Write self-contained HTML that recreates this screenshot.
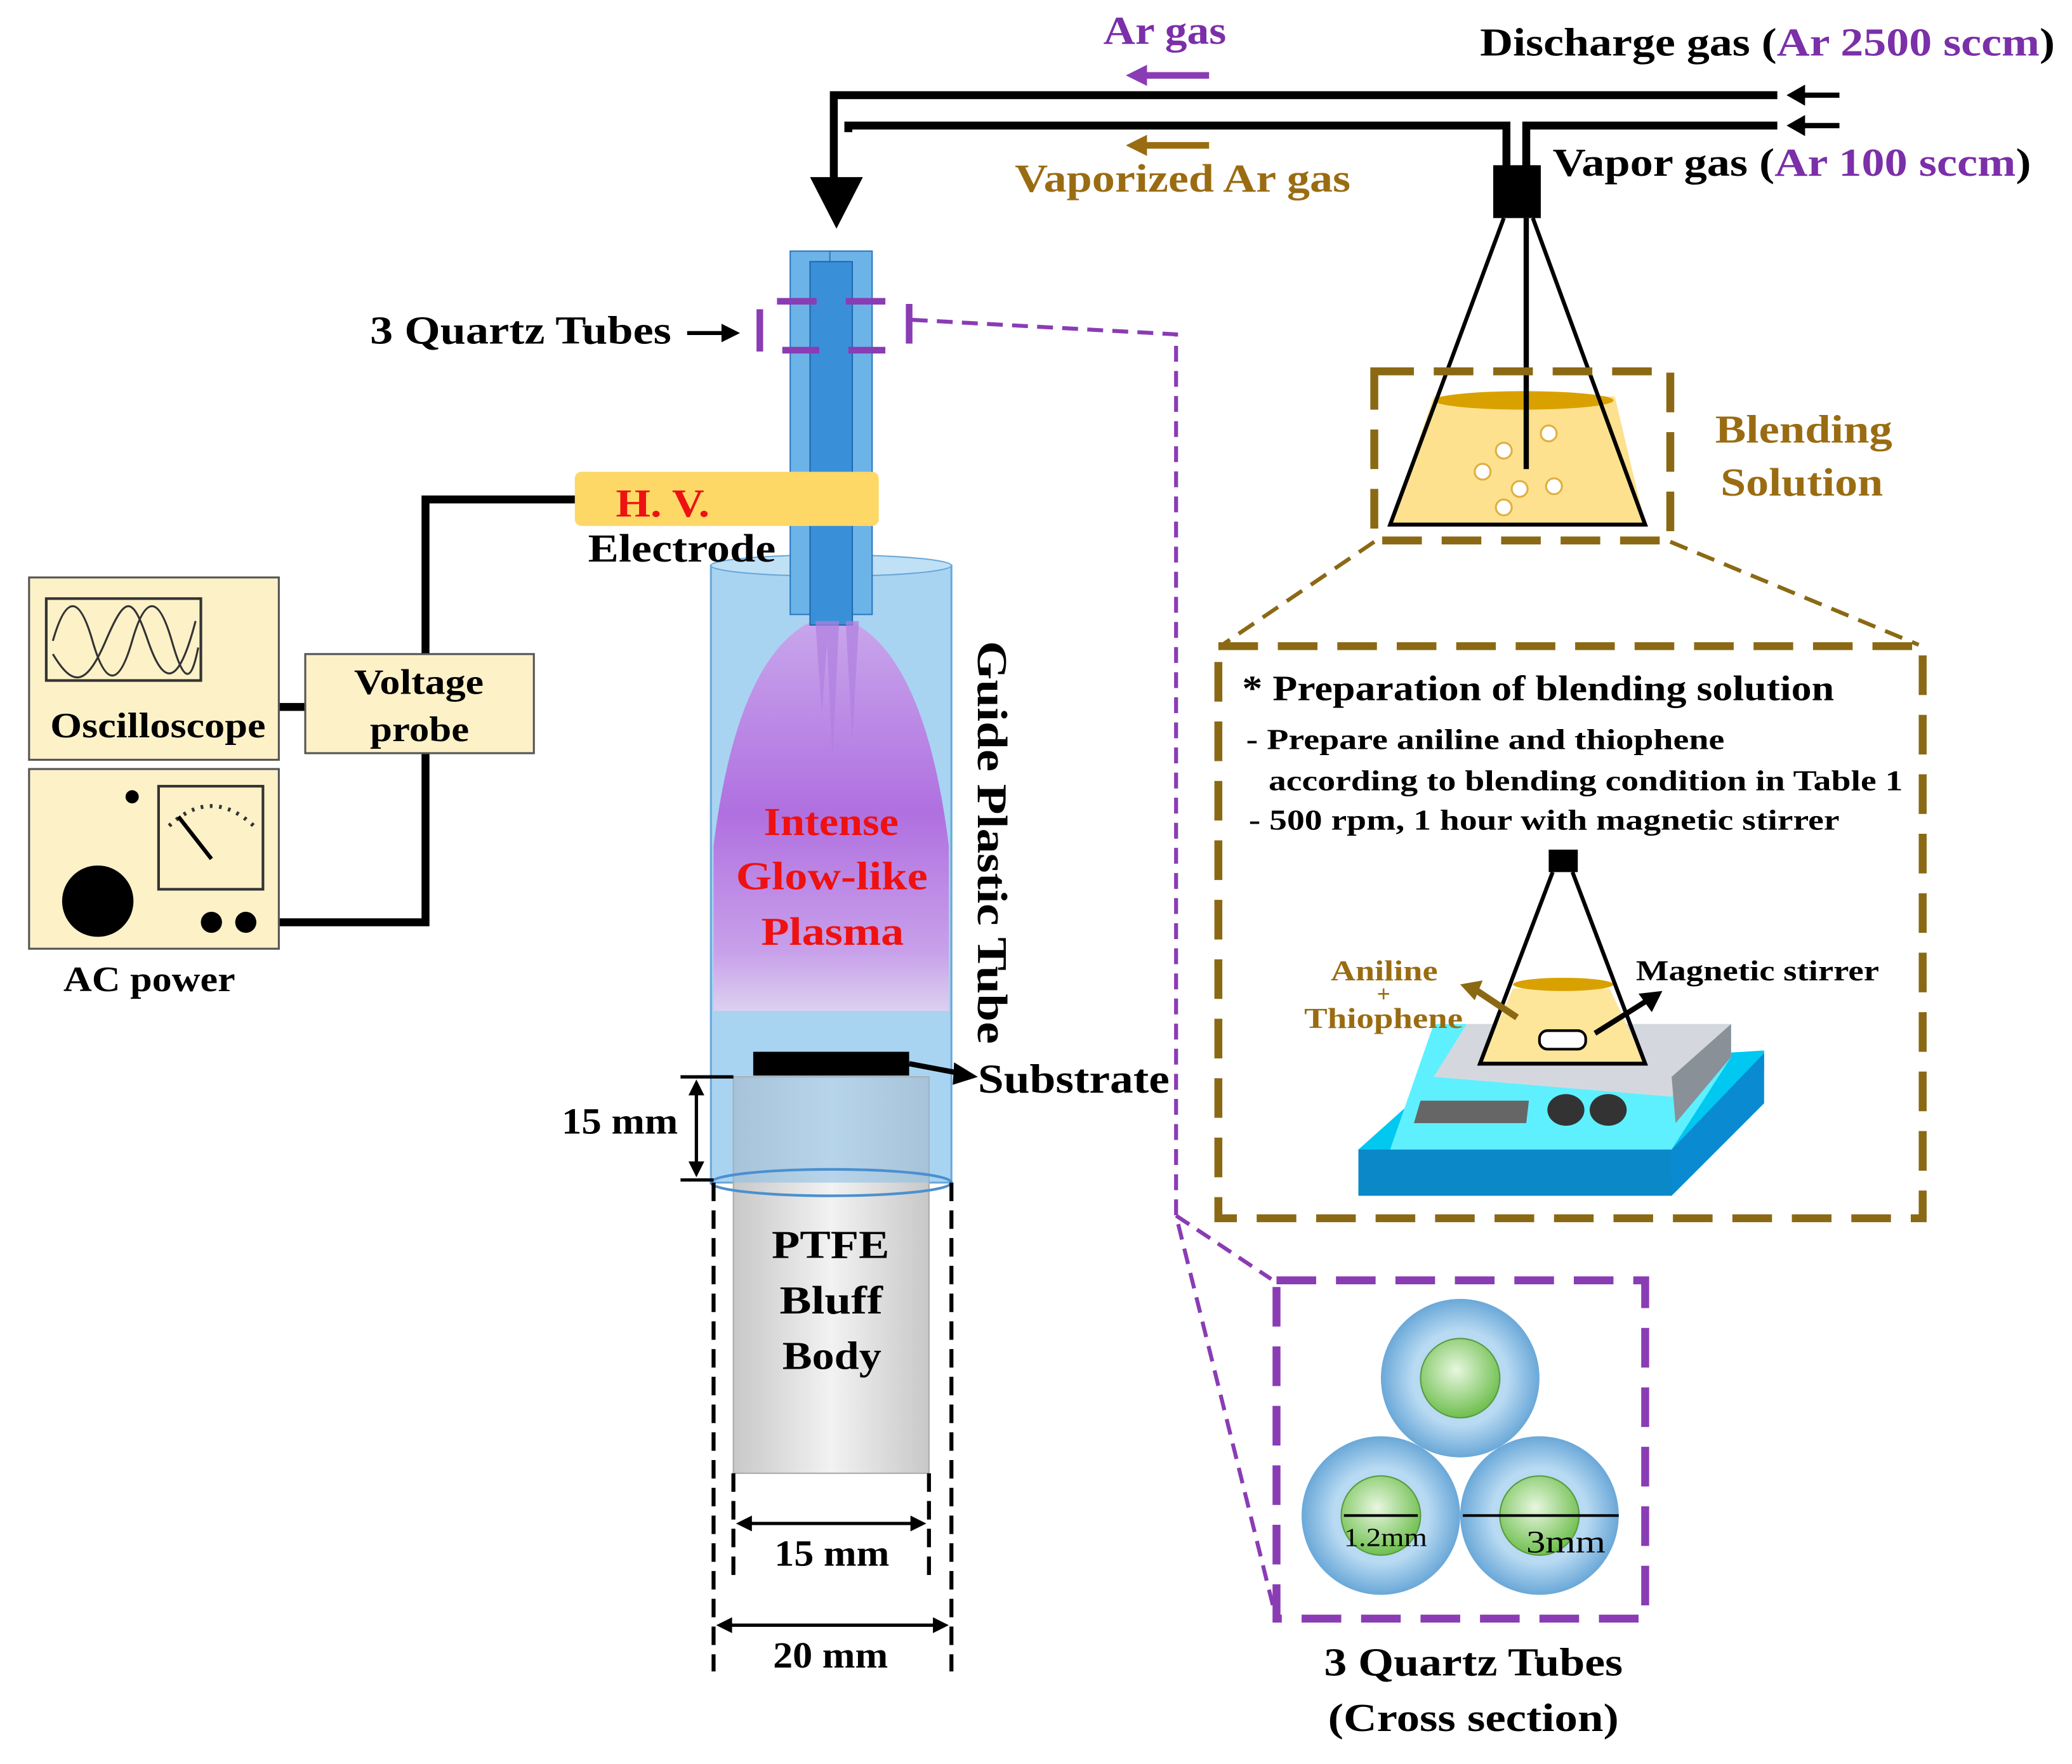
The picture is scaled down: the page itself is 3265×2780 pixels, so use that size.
<!DOCTYPE html>
<html><head><meta charset="utf-8"><style>
html,body{margin:0;padding:0;background:#fff;}
svg{display:block;}
text{font-family:"Liberation Serif",serif;font-weight:bold;}
</style></head><body>
<svg width="3265" height="2780" viewBox="0 0 1568 1335" xmlns="http://www.w3.org/2000/svg">
<defs>
<linearGradient id="pl" x1="0" y1="0" x2="0" y2="1">
<stop offset="0" stop-color="#c9a8ec"/><stop offset="0.5" stop-color="#b070e0"/><stop offset="0.85" stop-color="#c8a0ea"/><stop offset="1" stop-color="#dcd0f0"/></linearGradient>
<linearGradient id="bb" x1="0" y1="0" x2="1" y2="0">
<stop offset="0" stop-color="#c8c8c8"/><stop offset="0.5" stop-color="#f2f2f2"/><stop offset="1" stop-color="#c8c8c8"/></linearGradient>
<radialGradient id="gr" cx="0.45" cy="0.4" r="0.6"><stop offset="0" stop-color="#e8f7e0"/><stop offset="1" stop-color="#6fbf4f"/></radialGradient>
<radialGradient id="bl" cx="0.5" cy="0.5" r="0.5"><stop offset="0.6" stop-color="#b8daf2"/><stop offset="1" stop-color="#6aa8d8"/></radialGradient>
</defs>

<!-- top pipes -->
<g stroke="#000" stroke-width="6" fill="none">
<polyline points="1345,72 631,72 631,140"/>
<polyline points="1140,130 1140,95 642,95 642,100"/>
<polyline points="1155,130 1155,95 1345,95"/>
</g>
<polygon points="613,134 653,134 633,173" fill="#000"/>
<g stroke="#000" stroke-width="4"><line x1="1360" y1="72" x2="1392" y2="72"/><line x1="1360" y1="95" x2="1392" y2="95"/></g>
<polygon points="1352,72 1366,64 1366,80" fill="#000"/><polygon points="1352,95 1366,87 1366,103" fill="#000"/>
<text x="835" y="33" font-size="30" fill="#7b2fa8" textLength="93" lengthAdjust="spacingAndGlyphs">Ar gas</text>
<line x1="865" y1="57" x2="915" y2="57" stroke="#8a3cb4" stroke-width="5"/><polygon points="852,57 868,49 868,65" fill="#8a3cb4"/>
<line x1="865" y1="110" x2="915" y2="110" stroke="#9a6c12" stroke-width="5"/><polygon points="852,110 868,102 868,118" fill="#9a6c12"/>
<text x="768" y="145" font-size="30" fill="#9a6c12" textLength="254" lengthAdjust="spacingAndGlyphs">Vaporized Ar gas</text>
<text x="1120" y="42" font-size="30" fill="#000" textLength="435" lengthAdjust="spacingAndGlyphs">Discharge gas (<tspan fill="#7b2fa8">Ar 2500 sccm</tspan>)</text>
<text x="1175" y="133" font-size="30" fill="#000" textLength="362" lengthAdjust="spacingAndGlyphs">Vapor gas (<tspan fill="#7b2fa8">Ar 100 sccm</tspan>)</text>

<!-- flask top -->
<polygon points="1085,300 1222,300 1245,397 1052,397" fill="#fde18f"/>
<ellipse cx="1153" cy="303" rx="68" ry="7" fill="#d9a100"/>
<polyline points="1138,165 1052,397 1245,397 1160,165" fill="none" stroke="#000" stroke-width="3"/>
<rect x="1130" y="125" width="36" height="40" fill="#000"/>
<line x1="1155" y1="165" x2="1155" y2="355" stroke="#000" stroke-width="4"/>
<g fill="#fff" stroke="#e0b040" stroke-width="1.5">
<circle cx="1138" cy="341" r="6"/><circle cx="1172" cy="328" r="6"/><circle cx="1122" cy="357" r="6"/><circle cx="1150" cy="370" r="6"/><circle cx="1176" cy="368" r="6"/><circle cx="1138" cy="384" r="6"/></g>
<rect x="1040" y="281" width="224" height="128" fill="none" stroke="#8b6914" stroke-width="6" stroke-dasharray="30,15"/>
<text x="1298" y="335" font-size="30" fill="#9a6c12" textLength="134" lengthAdjust="spacingAndGlyphs">Blending</text>
<text x="1302" y="375" font-size="30" fill="#9a6c12" textLength="123" lengthAdjust="spacingAndGlyphs">Solution</text>
<g stroke="#8b6914" stroke-width="3" stroke-dasharray="14,8"><line x1="1040" y1="410" x2="925" y2="488"/><line x1="1264" y1="410" x2="1452" y2="488"/></g>

<!-- big box -->
<rect x="922" y="489" width="533" height="433" fill="none" stroke="#8b6914" stroke-width="6" stroke-dasharray="30,15"/>
<text x="940" y="530" font-size="27" fill="#000" textLength="448" lengthAdjust="spacingAndGlyphs">* Preparation of blending solution</text>
<text x="943" y="567" font-size="22" fill="#000" textLength="362" lengthAdjust="spacingAndGlyphs">- Prepare aniline and thiophene</text>
<text x="960" y="598" font-size="22" fill="#000" textLength="480" lengthAdjust="spacingAndGlyphs">according to blending condition in Table 1</text>
<text x="945" y="628" font-size="22" fill="#000" textLength="447" lengthAdjust="spacingAndGlyphs">- 500 rpm, 1 hour with magnetic stirrer</text>

<!-- hotplate -->
<polygon points="1028,870 1095,810 1335,795 1335,810 1265,905 1028,905" fill="#00c8f0"/>
<polygon points="1028,870 1265,870 1265,905 1028,905" fill="#0a88c8"/>
<polygon points="1265,870 1335,797 1335,835 1265,905" fill="#0a8ad0"/>
<polygon points="1085,775 1310,775 1310,800 1265,870 1052,870" fill="#5ef0ff"/>
<polygon points="1110,775 1310,775 1265,830 1085,815" fill="#d4d8de"/>
<polygon points="1265,815 1310,775 1310,800 1268,850" fill="#8a9098"/>
<polygon points="1075,833 1157,833 1155,850 1070,850" fill="#666"/>
<ellipse cx="1185" cy="840" rx="14" ry="12" fill="#333"/><ellipse cx="1217" cy="840" rx="14" ry="12" fill="#333"/>
<polygon points="1145,748 1218,748 1245,805 1120,805" fill="#fde59a"/>
<ellipse cx="1183" cy="745" rx="38" ry="5" fill="#d9a100"/>
<polyline points="1175,660 1120,805 1245,805 1190,660" fill="none" stroke="#000" stroke-width="3"/>
<rect x="1172" y="643" width="22" height="17" fill="#000"/>
<rect x="1165" y="780" width="35" height="14" rx="6" fill="#fff" stroke="#000" stroke-width="2"/>
<line x1="1207" y1="782" x2="1250" y2="755" stroke="#000" stroke-width="4"/><polygon points="1258,750 1240,752 1250,766" fill="#000"/>
<line x1="1148" y1="770" x2="1118" y2="750" stroke="#8b6914" stroke-width="5"/><polygon points="1105,745 1122,742 1116,757" fill="#8b6914"/>
<text x="1007" y="742" font-size="22" fill="#9a6c12" textLength="81" lengthAdjust="spacingAndGlyphs">Aniline</text>
<text x="1047" y="758" font-size="18" fill="#9a6c12" text-anchor="middle">+</text>
<text x="987" y="778" font-size="22" fill="#9a6c12" textLength="120" lengthAdjust="spacingAndGlyphs">Thiophene</text>
<text x="1238" y="742" font-size="22" fill="#000" textLength="184" lengthAdjust="spacingAndGlyphs">Magnetic stirrer</text>

<!-- purple dashed connectors -->
<g stroke="#8a3cb4" stroke-width="3" stroke-dasharray="12,7" fill="none">
<polyline points="690,242 890,253 890,920 965,1222"/>
<line x1="890" y1="920" x2="962" y2="968"/>
</g>
<rect x="966" y="969" width="279" height="256" fill="none" stroke="#8a3cb4" stroke-width="6" stroke-dasharray="30,15"/>
<circle cx="1105" cy="1043" r="60" fill="url(#bl)"/><circle cx="1105" cy="1043" r="30" fill="url(#gr)" stroke="#5a9a40"/>
<circle cx="1045" cy="1147" r="60" fill="url(#bl)"/><circle cx="1045" cy="1147" r="30" fill="url(#gr)" stroke="#5a9a40"/>
<circle cx="1165" cy="1147" r="60" fill="url(#bl)"/><circle cx="1165" cy="1147" r="30" fill="url(#gr)" stroke="#5a9a40"/>
<g stroke="#000" stroke-width="2"><line x1="1017" y1="1147" x2="1073" y2="1147"/><line x1="1107" y1="1147" x2="1225" y2="1147"/></g>
<text x="1017" y="1170" font-size="20" style="font-weight:normal" fill="#000" textLength="63" lengthAdjust="spacingAndGlyphs">1.2mm</text>
<text x="1155" y="1175" font-size="24" style="font-weight:normal" fill="#000" textLength="60" lengthAdjust="spacingAndGlyphs">3mm</text>
<text x="1002" y="1268" font-size="30" fill="#000" textLength="226" lengthAdjust="spacingAndGlyphs">3 Quartz Tubes</text>
<text x="1005" y="1310" font-size="30" fill="#000" textLength="220" lengthAdjust="spacingAndGlyphs">(Cross section)</text>

<!-- guide tube -->
<rect x="538" y="428" width="182" height="467" fill="#a8d4f2" stroke="#6aa8d8" stroke-width="1.5"/>
<ellipse cx="629" cy="428" rx="91" ry="8" fill="#c0e0f6" stroke="#6aa8d8"/>
<path d="M540,765 L540,640 Q560,480 629,465 Q698,480 718,640 L718,765 Z" fill="url(#pl)"/>
<rect x="555" y="815" width="148" height="300" fill="url(#bb)" stroke="#aaa"/>
<rect x="555" y="815" width="148" height="80" fill="#8fc0e4" opacity="0.6"/>
<ellipse cx="629" cy="895" rx="91" ry="10" fill="none" stroke="#4a90d0" stroke-width="2"/>
<rect x="570" y="796" width="118" height="18" fill="#000"/>
<line x1="688" y1="805" x2="725" y2="812" stroke="#000" stroke-width="4"/><polygon points="740,815 722,804 721,821" fill="#000"/>
<text x="740" y="827" font-size="31" fill="#000" textLength="145" lengthAdjust="spacingAndGlyphs">Substrate</text>
<!-- quartz tubes -->
<rect x="598" y="190" width="32" height="275" fill="#6cb4e8" stroke="#2a78c0"/>
<rect x="628" y="190" width="32" height="275" fill="#6cb4e8" stroke="#2a78c0"/>
<rect x="613" y="198" width="32" height="275" fill="#3a90d8" stroke="#1f68b0"/>
<g fill="#b080e0" opacity="0.7"><path d="M617,470 L627,470 L622,540Z"/><path d="M625,470 L635,470 L630,575Z"/><path d="M640,470 L650,470 L645,560Z"/></g>
<g stroke="#8a3cb4" stroke-width="5"><line x1="575" y1="234" x2="575" y2="266"/><line x1="688" y1="230" x2="688" y2="260"/><line x1="588" y1="228" x2="618" y2="228"/><line x1="640" y1="228" x2="670" y2="228"/><line x1="592" y1="265" x2="620" y2="265"/><line x1="642" y1="265" x2="670" y2="265"/></g>
<text x="280" y="260" font-size="30" fill="#000" textLength="228" lengthAdjust="spacingAndGlyphs">3 Quartz Tubes</text>
<line x1="520" y1="252" x2="548" y2="252" stroke="#000" stroke-width="3"/><polygon points="560,252 546,245 546,259" fill="#000"/>
<rect x="435" y="357" width="230" height="41" rx="5" fill="#fdd866"/>
<text x="466" y="391" font-size="30" fill="#ee1111" textLength="71" lengthAdjust="spacingAndGlyphs">H. V.</text>
<text x="445" y="425" font-size="30" fill="#000" textLength="142" lengthAdjust="spacingAndGlyphs">Electrode</text>
<text x="578" y="632" font-size="30" fill="#ee1111" textLength="102" lengthAdjust="spacingAndGlyphs">Intense</text>
<text x="557" y="673" font-size="30" fill="#ee1111" textLength="145" lengthAdjust="spacingAndGlyphs">Glow-like</text>
<text x="576" y="715" font-size="30" fill="#ee1111" textLength="108" lengthAdjust="spacingAndGlyphs">Plasma</text>
<text transform="translate(740,485) rotate(90)" font-size="32" fill="#000" textLength="305" lengthAdjust="spacingAndGlyphs">Guide Plastic Tube</text>
<text x="584" y="952" font-size="30" fill="#000" textLength="89" lengthAdjust="spacingAndGlyphs">PTFE</text>
<text x="590" y="994" font-size="30" fill="#000" textLength="78" lengthAdjust="spacingAndGlyphs">Bluff</text>
<text x="592" y="1036" font-size="30" fill="#000" textLength="75" lengthAdjust="spacingAndGlyphs">Body</text>
<!-- dims -->
<g stroke="#000" stroke-width="3" stroke-dasharray="14,7"><line x1="540" y1="895" x2="540" y2="1265"/><line x1="720" y1="895" x2="720" y2="1265"/><line x1="555" y1="1115" x2="555" y2="1195"/><line x1="703" y1="1115" x2="703" y2="1195"/></g>
<g stroke="#000" stroke-width="2.5"><line x1="562" y1="1153" x2="696" y2="1153"/><line x1="547" y1="1230" x2="713" y2="1230"/><line x1="527" y1="820" x2="527" y2="888"/><line x1="515" y1="815" x2="555" y2="815"/><line x1="515" y1="893" x2="540" y2="893"/></g>
<g fill="#000"><polygon points="557,1153 569,1147 569,1159"/><polygon points="701,1153 689,1147 689,1159"/><polygon points="542,1230 554,1224 554,1236"/><polygon points="718,1230 706,1224 706,1236"/><polygon points="527,817 521,829 533,829"/><polygon points="527,891 521,879 533,879"/></g>
<text x="586" y="1185" font-size="28" fill="#000" textLength="87" lengthAdjust="spacingAndGlyphs">15 mm</text>
<text x="585" y="1262" font-size="28" fill="#000" textLength="87" lengthAdjust="spacingAndGlyphs">20 mm</text>
<text x="425" y="858" font-size="28" fill="#000" textLength="88" lengthAdjust="spacingAndGlyphs">15 mm</text>

<!-- equipment -->
<polyline points="435,378 322,378 322,698 211,698" fill="none" stroke="#000" stroke-width="6"/>
<line x1="211" y1="535" x2="231" y2="535" stroke="#000" stroke-width="6"/>
<rect x="22" y="437" width="189" height="138" fill="#fdf1c8" stroke="#555" stroke-width="1.5"/>
<rect x="35" y="453" width="117" height="62" fill="#fdf1c8" stroke="#333" stroke-width="2"/>
<path d="M40,485 C50,450 60,450 70,485 S90,520 100,485 S120,450 130,485 S145,515 150,490" fill="none" stroke="#333" stroke-width="1.5"/>
<path d="M40,495 C55,520 65,520 80,485 S100,450 112,485 S135,520 148,470" fill="none" stroke="#333" stroke-width="1.5"/>
<text x="38" y="558" font-size="27" fill="#000" textLength="163" lengthAdjust="spacingAndGlyphs">Oscilloscope</text>
<rect x="231" y="495" width="173" height="75" fill="#fdf1c8" stroke="#555" stroke-width="1.5"/>
<text x="268" y="525" font-size="27" fill="#000" textLength="98" lengthAdjust="spacingAndGlyphs">Voltage</text>
<text x="280" y="561" font-size="27" fill="#000" textLength="75" lengthAdjust="spacingAndGlyphs">probe</text>
<rect x="22" y="582" width="189" height="136" fill="#fdf1c8" stroke="#555" stroke-width="1.5"/>
<rect x="120" y="595" width="79" height="78" fill="#fdf1c8" stroke="#333" stroke-width="2"/>
<path d="M128,625 Q160,595 192,625" fill="none" stroke="#333" stroke-width="3" stroke-dasharray="2,5"/>
<line x1="160" y1="650" x2="135" y2="618" stroke="#000" stroke-width="3"/>
<circle cx="100" cy="603" r="5" fill="#000"/>
<circle cx="74" cy="682" r="27" fill="#000"/>
<circle cx="160" cy="698" r="8" fill="#000"/><circle cx="186" cy="698" r="8" fill="#000"/>
<text x="48" y="750" font-size="27" fill="#000" textLength="130" lengthAdjust="spacingAndGlyphs">AC power</text>
</svg>
</body></html>
